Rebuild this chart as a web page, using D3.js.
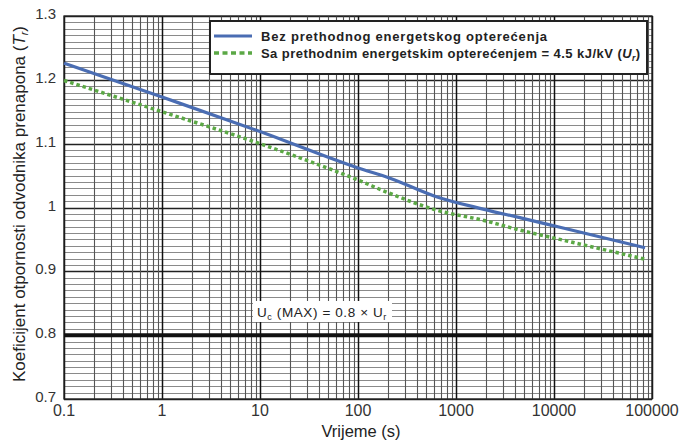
<!DOCTYPE html>
<html><head><meta charset="utf-8">
<script src="https://cdn.jsdelivr.net/npm/d3@7"></script>
<style>
body{margin:0;background:#fff;}
svg{display:block;font-family:"Liberation Sans",Arial,sans-serif;}
</style></head>
<body><svg id="c" width="680" height="442"></svg>
<script>
const timesBlue = [0.1, 1, 10, 100, 212, 630, 1890, 4800, 11500, 85000];
const valuesBlue = [1.226, 1.173, 1.119, 1.062, 1.046, 1.017, 0.9975, 0.983, 0.969, 0.937];
const timesGreen = [0.1, 1, 10, 100, 212, 630, 1890, 4800, 11500, 85000];
const valuesGreen = [1.199, 1.150, 1.100, 1.043, 1.022, 0.996, 0.980, 0.9635, 0.950, 0.919];
const xTicks = [0.1, 1, 10, 100, 1000, 10000, 100000];
const xTickLabels = ["0.1", "1", "10", "100", "1000", "10000", "100000"];
const yTicks = [0.7, 0.8, 0.9, 1.0, 1.1, 1.2, 1.3];
const yTickLabels = ["0.7", "0.8", "0.9", "1", "1.1", "1.2", "1.3"];
const limitValue = 0.8;
const legendLabels = ["Bez prethodnog energetskog opterećenja", "Sa prethodnim energetskim opterećenjem = 4.5 kJ/kV ("];

const svg = d3.select("#c");
const L = 64, R = 652, T = 16, B = 399;
const x = d3.scaleLog().domain([0.1, 100000]).range([L, R]);
const y = d3.scaleLinear().domain([0.7, 1.3]).range([B, T]);

const g = svg.append("g");
const hMinor = d3.range(70, 131).map(v => v / 100);
g.selectAll("line.hm").data(hMinor).join("line")
  .attr("x1", L).attr("x2", R)
  .attr("y1", d => Math.round(y(d)) + 0.5).attr("y2", d => Math.round(y(d)) + 0.5)
  .attr("stroke", d => (Math.round(d * 100) % 10 === 0) ? "#222" : "#8a8a8a")
  .attr("stroke-width", d => (Math.round(d * 100) % 10 === 0) ? 1.3 : 1.2);
const vLines = [];
for (let e = -1; e < 5; e++) for (let k = 1; k < 10; k++) vLines.push(k * Math.pow(10, e));
vLines.push(100000);
const isMajor = d => xTicks.some(t => Math.abs(t - d) / t < 1e-6);
g.selectAll("line.vm").data(vLines).join("line")
  .attr("y1", T).attr("y2", B)
  .attr("x1", d => Math.round(x(d)) + 0.5).attr("x2", d => Math.round(x(d)) + 0.5)
  .attr("stroke", d => isMajor(d) ? "#111" : "#555")
  .attr("stroke-width", d => isMajor(d) ? 1.5 : 1.1);

g.append("rect").attr("x", L).attr("y", T).attr("width", R - L).attr("height", B - T)
  .attr("fill", "none").attr("stroke", "#222").attr("stroke-width", 1.3);

g.append("line").attr("x1", L).attr("x2", R).attr("y1", y(limitValue)).attr("y2", y(limitValue))
  .attr("stroke", "#111").attr("stroke-width", 4);

const lb = svg.append("g");
lb.append("rect").attr("x", 253).attr("y", 301).attr("width", 139).attr("height", 21).attr("fill", "#fff");
const lt = lb.append("text").attr("x", 257).attr("y", 317).attr("font-size", 13.5).attr("fill", "#222")
  .attr("letter-spacing", 0.6);
lt.append("tspan").text("U");
lt.append("tspan").attr("font-size", 9).attr("dy", 3).text("c");
lt.append("tspan").attr("dy", -3).text(" (MAX) = 0.8 × U");
lt.append("tspan").attr("font-size", 9).attr("dy", 3).text("r");

const line = d3.line().x(d => x(d[0])).y(d => y(d[1])).curve(d3.curveMonotoneX);
svg.append("path").datum(d3.zip(timesGreen, valuesGreen)).attr("d", line)
  .attr("fill", "none").attr("stroke", "#5ba845").attr("stroke-width", 3.5).attr("stroke-dasharray", "3.5,3");
svg.append("path").datum(d3.zip(timesBlue, valuesBlue)).attr("d", line)
  .attr("fill", "none").attr("stroke", "#4a6db3").attr("stroke-width", 3.2);

const lg = svg.append("g");
lg.append("rect").attr("x", 210).attr("y", 21).attr("width", 437).attr("height", 53)
  .attr("fill", "#fff").attr("stroke", "#222").attr("stroke-width", 2);
lg.append("line").attr("x1", 214).attr("x2", 252).attr("y1", 36).attr("y2", 36)
  .attr("stroke", "#4a6db3").attr("stroke-width", 3.2);
lg.append("line").attr("x1", 214).attr("x2", 252).attr("y1", 53).attr("y2", 53)
  .attr("stroke", "#5ba845").attr("stroke-width", 3.5).attr("stroke-dasharray", "5,3.5");
lg.append("text").attr("x", 261).attr("y", 40.5).attr("font-size", 13).attr("font-weight", "bold")
  .attr("letter-spacing", 0.8).attr("fill", "#222").text(legendLabels[0]);
const l2 = lg.append("text").attr("x", 261).attr("y", 57.5).attr("font-size", 13).attr("font-weight", "bold")
  .attr("letter-spacing", 0.45).attr("fill", "#222");
l2.append("tspan").text(legendLabels[1]);
l2.append("tspan").attr("font-style", "italic").text("U");
l2.append("tspan").attr("font-size", 8.5).attr("dy", 3).attr("font-style", "italic").text("r");
l2.append("tspan").attr("dy", -3).text(")");

svg.append("g").selectAll("text").data(xTicks).join("text")
  .attr("x", d => x(d)).attr("y", 416).attr("text-anchor", "middle")
  .attr("font-size", 16).attr("fill", "#333").text((d, i) => xTickLabels[i]);
svg.append("g").selectAll("text").data(yTicks).join("text")
  .attr("x", 56).attr("y", d => y(d) + 3).attr("text-anchor", "end")
  .attr("font-size", 15).attr("fill", "#333").text((d, i) => yTickLabels[i]);

svg.append("text").attr("x", 361).attr("y", 437).attr("text-anchor", "middle")
  .attr("font-size", 16.5).attr("fill", "#222").text("Vrijeme (s)");
const yl = svg.append("text").attr("transform", "translate(25,204) rotate(-90)")
  .attr("text-anchor", "middle").attr("font-size", 17).attr("fill", "#222");
yl.append("tspan").text("Koeficijent otpornosti odvodnika prenapona (");
yl.append("tspan").attr("font-style", "italic").text("T");
yl.append("tspan").attr("font-size", 10.5).attr("dy", 3).attr("font-style", "italic").text("r");
yl.append("tspan").attr("dy", -3).text(")");
</script></body></html>
